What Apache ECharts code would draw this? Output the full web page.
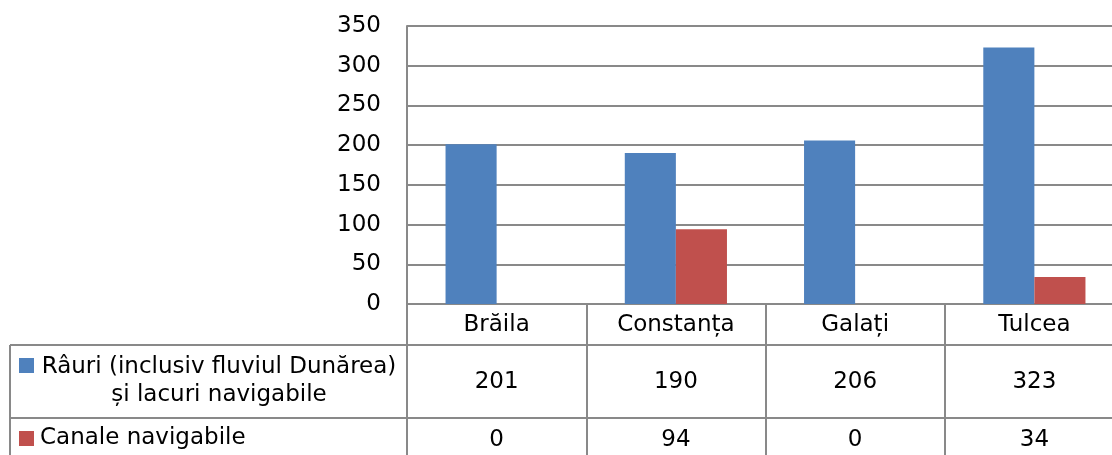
<!DOCTYPE html>
<html>
<head>
<meta charset="utf-8">
<script src="https://cdn.jsdelivr.net/npm/echarts@6/dist/echarts.min.js"></script>
<style>
  html, body { margin: 0; padding: 0; background: #fff; overflow: hidden; }
  /* graficul original e taiat in dreapta: containerul e putin mai lat decat pagina */
  #chart { width: 1124px; height: 455px; }
</style>
</head>
<body>
<div id="chart"></div>
<script>
// date
var judete = ['Brăila', 'Constanța', 'Galați', 'Tulcea'];
var rauri = [201, 190, 206, 323];
var canale = [0, 94, 0, 34];
var numeSerii = ['Râuri (inclusiv fluviul Dunărea)\nși lacuri navigabile', 'Canale navigabile'];
var culori = ['#4F81BD', '#C0504D'];
var yTicks = [0, 50, 100, 150, 200, 250, 300, 350];

var FONT = 'DejaVu Sans';
var GRI = '#898989';

var chart = echarts.init(document.getElementById('chart'));

// axe x suplimentare doar pentru randurile tabelului
function axaTabel(valori, margine) {
    return {
        type: 'category',
        data: judete,
        position: 'bottom',
        axisLine: { show: false },
        axisTick: { show: false },
        axisLabel: {
            margin: margine,
            verticalAlign: 'middle',
            fontFamily: FONT,
            fontSize: 23,
            color: '#000',
            formatter: function (v, i) { return String(valori[i]); }
        }
    };
}

var option = {
    animation: false,
    color: culori,
    grid: { left: 407, top: 26, right: 0, bottom: 151 },
    xAxis: [
        {
            type: 'category',
            data: judete,
            position: 'bottom',
            axisLine: { show: true, lineStyle: { color: GRI, width: 2 } },
            axisTick: { show: true, length: 155, lineStyle: { color: GRI, width: 2 } },
            axisLabel: {
                margin: 21,
                verticalAlign: 'middle',
                fontFamily: FONT,
                fontSize: 23,
                color: '#000'
            }
        },
        axaTabel(rauri, 78),
        axaTabel(canale, 136)
    ],
    yAxis: {
        type: 'value',
        min: yTicks[0],
        max: yTicks[yTicks.length - 1],
        interval: 50,
        axisLine: { show: true, lineStyle: { color: GRI, width: 2 } },
        axisTick: { show: false },
        splitLine: { lineStyle: { color: GRI, width: 2 } },
        axisLabel: {
            margin: 26,
            fontFamily: FONT,
            fontSize: 23,
            color: '#000'
        }
    },
    series: [
        {
            name: numeSerii[0],
            type: 'bar',
            data: rauri,
            barGap: 0,
            barCategoryGap: '43%'
        },
        {
            name: numeSerii[1],
            type: 'bar',
            data: canale,
            barGap: 0,
            barCategoryGap: '43%'
        }
    ],
    graphic: [
        // liniile tabelului
        { type: 'line', shape: { x1: 10, y1: 345, x2: 1124, y2: 345 }, style: { stroke: GRI, lineWidth: 2 } },
        { type: 'line', shape: { x1: 10, y1: 418, x2: 1124, y2: 418 }, style: { stroke: GRI, lineWidth: 2 } },
        { type: 'line', shape: { x1: 10, y1: 345, x2: 10, y2: 455 }, style: { stroke: GRI, lineWidth: 2 } },
        // cheia legendei in tabel
        { type: 'rect', shape: { x: 19, y: 358, width: 15, height: 15 }, style: { fill: culori[0] } },
        {
            type: 'text', x: 219, y: 381,
            style: {
                text: numeSerii[0], fill: '#000', font: '23px "' + FONT + '"',
                align: 'center', verticalAlign: 'middle', lineHeight: 28
            }
        },
        { type: 'rect', shape: { x: 19, y: 431, width: 15, height: 15 }, style: { fill: culori[1] } },
        {
            type: 'text', x: 40, y: 438,
            style: {
                text: numeSerii[1], fill: '#000', font: '23px "' + FONT + '"',
                align: 'left', verticalAlign: 'middle'
            }
        }
    ]
};

chart.setOption(option);
</script>
</body>
</html>
